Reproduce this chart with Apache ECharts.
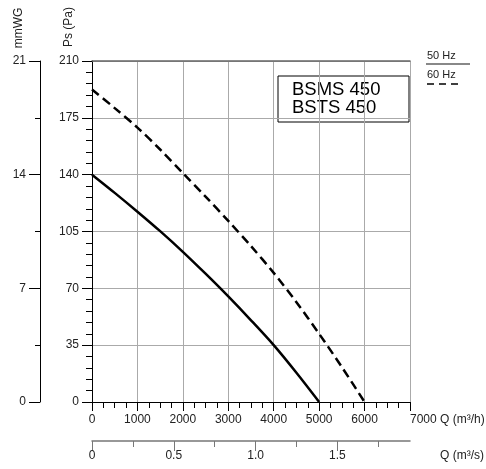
<!DOCTYPE html>
<html>
<head>
<meta charset="utf-8">
<script src="https://cdn.jsdelivr.net/npm/echarts@6/dist/echarts.min.js"></script>
<style>
  html, body { margin: 0; padding: 0; background: #fff; }
  #chart { width: 486px; height: 469px; }
</style>
</head>
<body>
<div id="chart"></div>
<script>
// Q (m3/h) sample points
const flow50 = [0, 500, 1000, 1500, 2000, 2500, 3000, 3500, 4000, 4500, 5000]
const ps50 = [140, 128.8, 117.2, 105.2, 92.5, 79, 65, 50.3, 35, 18, 0]
const flow60 = [0, 500, 1000, 1500, 2000, 2500, 3000, 3500, 4000, 4500, 5000, 5500, 6000]
const ps60 = [192.5, 181, 169, 155.5, 141, 126.5, 111.5, 96, 79.5, 61.5, 42, 21.5, 0]

// m3/s ticks for the second flow axis
const m3sMajor = [0, 0.5, 1.0, 1.5]
const m3sMinor = [0.25, 0.75, 1.25, 1.75]

const modelLines = ['BSMS 450', 'BSTS 450']
const FONT = '"Liberation Sans", Arial, sans-serif'

const chart = echarts.init(document.getElementById('chart'))

const pair = (xs, ys) => xs.map((x, i) => [x, ys[i]])
const plain = v => String(v)

chart.setOption({
  animation: false,
  textStyle: { fontFamily: FONT },
  grid: { left: 92, right: 76, top: 61, bottom: 67, containLabel: false, outerBoundsMode: 'none' },
  xAxis: [
    {
      type: 'value',
      position: 'bottom',
      min: 0,
      max: 7000,
      interval: 1000,
      name: 'Q (m³/h)',
      nameLocation: 'end',
      nameGap: 30,
      nameMoveOverlap: false,
      nameTextStyle: { color: '#222', fontSize: 12, verticalAlign: 'top', padding: [12, 0, 0, 0] },
      axisLine: { onZero: false, lineStyle: { color: '#000', width: 1 } },
      axisTick: { length: 9, lineStyle: { color: '#000' } },
      minorTick: { show: true, splitNumber: 4, length: 6, lineStyle: { color: '#000' } },
      axisLabel: { color: '#222', fontSize: 12, margin: 12, alignMaxLabel: 'left', formatter: plain },
      splitLine: { show: true, lineStyle: { color: '#aaa', width: 1 } }
    },
    {
      // m3/s axis: line, minor ticks, labels
      type: 'value',
      position: 'bottom',
      offset: 39,
      min: 0,
      max: 7000 / 3600,
      name: 'Q (m³/s)',
      nameLocation: 'end',
      nameGap: 30,
      nameMoveOverlap: false,
      nameTextStyle: { color: '#222', fontSize: 12, verticalAlign: 'top', padding: [9, 0, 0, 0] },
      axisLine: { onZero: false, lineStyle: { color: '#777', width: 1.5 } },
      axisTick: { customValues: m3sMinor, length: 6, lineStyle: { color: '#777' } },
      axisLabel: {
        customValues: m3sMajor,
        color: '#222',
        fontSize: 12,
        margin: 9,
        formatter: v => (v === 0 ? '0' : v.toFixed(1))
      },
      splitLine: { show: false }
    },
    {
      // m3/s axis: major ticks only
      type: 'value',
      position: 'bottom',
      offset: 39,
      min: 0,
      max: 7000 / 3600,
      axisLine: { show: false, onZero: false },
      axisTick: { customValues: m3sMajor, length: 10, lineStyle: { color: '#777' } },
      axisLabel: { show: false },
      splitLine: { show: false }
    },
    {
      // top border
      type: 'value',
      position: 'top',
      min: 0,
      max: 7000,
      axisLine: { onZero: false, lineStyle: { color: '#666', width: 1.5 } },
      axisTick: { show: false },
      axisLabel: { show: false },
      splitLine: { show: false }
    }
  ],
  yAxis: [
    {
      type: 'value',
      position: 'left',
      min: 0,
      max: 210,
      interval: 35,
      axisLine: { show: true, onZero: false, lineStyle: { color: '#000', width: 1 } },
      axisTick: { show: true, length: 10, lineStyle: { color: '#000' } },
      minorTick: { show: true, splitNumber: 5, length: 6, lineStyle: { color: '#000' } },
      axisLabel: { color: '#222', fontSize: 12, margin: 13, formatter: plain },
      splitLine: { show: true, lineStyle: { color: '#aaa', width: 1 } }
    },
    {
      type: 'value',
      position: 'left',
      offset: 52,
      min: 0,
      max: 21,
      interval: 7,
      axisLine: { show: true, onZero: false, lineStyle: { color: '#000', width: 1 } },
      axisTick: { show: true, length: 11, lineStyle: { color: '#000' } },
      minorTick: { show: true, splitNumber: 2, length: 5, lineStyle: { color: '#000' } },
      axisLabel: { color: '#222', fontSize: 12, margin: 14, formatter: plain },
      splitLine: { show: false }
    }
  ],
  series: [
    {
      name: '50 Hz',
      type: 'line',
      xAxisIndex: 0,
      yAxisIndex: 0,
      smooth: 0.3,
      showSymbol: false,
      lineStyle: { color: '#000', width: 2.5 },
      data: pair(flow50, ps50)
    },
    {
      name: '60 Hz',
      type: 'line',
      xAxisIndex: 0,
      yAxisIndex: 0,
      smooth: 0.3,
      showSymbol: false,
      lineStyle: { color: '#000', width: 2.5, type: [9, 5] },
      data: pair(flow60, ps60)
    }
  ],
  graphic: [
    // axis names for the two pressure scales
    {
      type: 'text', x: 19, y: 28, rotation: Math.PI / 2,
      style: { text: 'mmWG', fill: '#222', font: '12px ' + FONT, textAlign: 'center', textVerticalAlign: 'middle' }
    },
    {
      type: 'text', x: 69, y: 27, rotation: Math.PI / 2,
      style: { text: 'Ps (Pa)', fill: '#222', font: '12px ' + FONT, textAlign: 'center', textVerticalAlign: 'middle' }
    },
    // model box
    {
      type: 'rect', shape: { x: 278, y: 76, width: 131, height: 46 },
      style: { fill: '#fff', stroke: '#000', lineWidth: 1 }
    },
    {
      type: 'text', x: 292, y: 90,
      style: { text: modelLines[0], fill: '#000', font: '18.5px ' + FONT, textVerticalAlign: 'middle' }
    },
    {
      type: 'text', x: 292, y: 108,
      style: { text: modelLines[1], fill: '#000', font: '18.5px ' + FONT, textVerticalAlign: 'middle' }
    },
    // custom legend
    {
      type: 'text', x: 427, y: 56,
      style: { text: '50 Hz', fill: '#222', font: '11px ' + FONT, textVerticalAlign: 'middle' }
    },
    {
      type: 'line', shape: { x1: 426, y1: 64, x2: 470, y2: 64 },
      style: { stroke: '#888', lineWidth: 2 }
    },
    {
      type: 'text', x: 427, y: 75,
      style: { text: '60 Hz', fill: '#222', font: '11px ' + FONT, textVerticalAlign: 'middle' }
    },
    {
      type: 'line', shape: { x1: 427, y1: 84, x2: 462, y2: 84 },
      style: { stroke: '#000', lineWidth: 1.5, lineDash: [7, 5] }
    }
  ]
})
</script>
</body>
</html>
